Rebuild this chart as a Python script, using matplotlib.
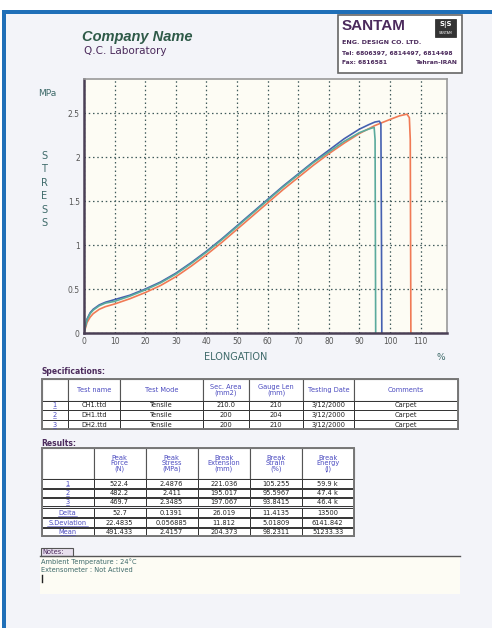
import matplotlib
matplotlib.use('Agg')
import matplotlib.pyplot as plt
from matplotlib.patches import Rectangle

# stress-strain curves (elongation %, stress MPa)
blue_x = [0, 0.5, 1, 2, 3, 5, 7, 10, 15, 20, 25, 30, 35, 40, 45, 50, 55, 60, 65, 70, 75, 80, 85, 90, 93, 95, 96.5, 97.0, 97.2, 97.3]
blue_y = [0, 0.09, 0.16, 0.23, 0.27, 0.32, 0.35, 0.38, 0.43, 0.50, 0.58, 0.68, 0.80, 0.93, 1.07, 1.22, 1.37, 1.52, 1.67, 1.81, 1.95, 2.08, 2.21, 2.32, 2.37, 2.40, 2.41, 2.38, 1.0, 0]
teal_x = [0, 0.5, 1, 2, 3, 5, 7, 10, 15, 20, 25, 30, 35, 40, 45, 50, 55, 60, 65, 70, 75, 80, 85, 90, 93, 94.8, 95.1, 95.3]
teal_y = [0, 0.08, 0.15, 0.22, 0.26, 0.31, 0.34, 0.36, 0.42, 0.49, 0.57, 0.67, 0.79, 0.92, 1.06, 1.21, 1.36, 1.51, 1.66, 1.80, 1.94, 2.06, 2.18, 2.28, 2.32, 2.34, 2.2, 0]
orange_x = [0, 0.5, 1, 2, 3, 5, 7, 10, 15, 20, 25, 30, 35, 40, 45, 50, 55, 60, 65, 70, 75, 80, 85, 90, 95, 100, 103, 105.5, 106.3, 106.6, 106.8]
orange_y = [0, 0.06, 0.12, 0.18, 0.22, 0.27, 0.30, 0.33, 0.39, 0.46, 0.54, 0.64, 0.76, 0.89, 1.03, 1.18, 1.33, 1.48, 1.63, 1.77, 1.91, 2.04, 2.16, 2.27, 2.36, 2.43, 2.47, 2.49, 2.45, 2.2, 0]

x_ticks = [0, 10, 20, 30, 40, 50, 60, 70, 80, 90, 100, 110]
y_ticks = [0, 0.5, 1, 1.5, 2, 2.5]
y_tick_labels = ['0', '0.5', '1', '1.5', '2', '2.5']

spec_headers = ['', 'Test name', 'Test Mode', 'Sec. Area\n(mm2)', 'Gauge Len\n(mm)', 'Testing Date', 'Comments']
spec_rows = [
    ['1', 'CH1.ttd', 'Tensile', '210.0', '210', '3/12/2000', 'Carpet'],
    ['2', 'DH1.ttd', 'Tensile', '200', '204', '3/12/2000', 'Carpet'],
    ['3', 'DH2.ttd', 'Tensile', '200', '210', '3/12/2000', 'Carpet'],
]
res_headers = ['', 'Peak\nForce\n(N)', 'Peak\nStress\n(MPa)', 'Break\nExtension\n(mm)', 'Break\nStrain\n(%)', 'Break\nEnergy\n(J)']
res_rows = [
    ['1', '522.4', '2.4876', '221.036', '105.255', '59.9 k'],
    ['2', '482.2', '2.411', '195.017', '95.5967', '47.4 k'],
    ['3', '469.7', '2.3485', '197.067', '93.8415', '46.4 k'],
    ['Delta', '52.7', '0.1391', '26.019', '11.4135', '13500'],
    ['S.Deviation', '22.4835', '0.056885', '11.812', '5.01809', '6141.842'],
    ['Mean', '491.433', '2.4157', '204.373', '98.2311', '51233.33'],
]
notes = ['Ambient Temperature : 24°C', 'Extensometer : Not Actived']

W, H = 492, 628
fig = plt.figure(figsize=(W / 100, H / 100), dpi=100)
fig.patch.set_facecolor('white')

# page layer in pixel coordinates
pg = fig.add_axes([0, 0, 1, 1])
pg.set_xlim(0, W)
pg.set_ylim(H, 0)
pg.axis('off')
pg.add_patch(Rectangle((2, 10), W, H, facecolor='#f3f4f9', edgecolor='none'))
pg.add_patch(Rectangle((2, 10), 4, H, facecolor='#1f6fb8', edgecolor='none'))
pg.add_patch(Rectangle((2, 10), W, 3.5, facecolor='#1f6fb8', edgecolor='none'))

purple = '#4b2a5c'
teal_txt = '#3e6a6a'
hdr_blue = '#4b4bc0'

pg.text(82, 37, 'Company Name', fontsize=10.5, fontweight='bold', fontstyle='italic',
        family='Liberation Sans', color='#2e5a48', va='center')
pg.text(84, 51, 'Q.C. Laboratory', fontsize=7.5, color=purple, va='center')

# SANTAM box
pg.add_patch(Rectangle((337.5, 15), 124, 57.5, facecolor='white', edgecolor='#666666', lw=1.2))
pg.text(342, 26, 'SANTAM', fontsize=11, fontweight='bold', color=purple, va='center', family='Liberation Sans')
pg.text(342, 43, 'ENG. DESIGN CO. LTD.', fontsize=4.6, fontweight='bold', color=purple, va='center')
pg.text(342, 54, 'Tel: 6806397, 6814497, 6814498', fontsize=4.3, fontweight='bold', color=purple, va='center')
pg.text(342, 62.5, 'Fax: 6816581', fontsize=4.3, fontweight='bold', color=purple, va='center')
pg.text(458, 62.5, 'Tehran-IRAN', fontsize=4.3, fontweight='bold', color=purple, va='center', ha='right')
pg.add_patch(Rectangle((435, 18.5), 21, 18, facecolor='#333333', edgecolor='#222222', lw=0.5))
pg.text(445.5, 25, 'S|S', fontsize=5, fontweight='bold', color='white', ha='center', va='center')
pg.text(445.5, 33.5, 'SANTAM', fontsize=2.3, color='white', ha='center', va='center')

# axis captions
pg.text(38, 93, 'MPa', fontsize=6.5, color=teal_txt, va='center')
for i, ch in enumerate('STRESS'):
    pg.text(44, 156 + i * 13.4, ch, fontsize=7, color=teal_txt, ha='center', va='center')
pg.text(236, 357, 'ELONGATION', fontsize=7, color=teal_txt, ha='center', va='center')
pg.text(441, 358, '%', fontsize=6.5, color=teal_txt, ha='center', va='center')

# chart
ax = fig.add_axes([84 / W, 1 - 333 / H, 363 / W, 254 / H])
ax.set_facecolor('#fdfcf4')
ax.plot(orange_x, orange_y, color='#f07a55', lw=1.2)
ax.plot(blue_x, blue_y, color='#4560b0', lw=1.2)
ax.plot(teal_x, teal_y, color='#5aaa9c', lw=1.2)
ax.set_xlim(0, 118.6)
ax.set_ylim(0, 2.89)
ax.set_xticks(x_ticks)
ax.set_yticks(y_ticks)
ax.set_yticklabels(y_tick_labels)
ax.tick_params(length=0, labelsize=5.5, labelcolor='#555555', pad=3)
ax.grid(True, color='#3f5a5a', linestyle=(0, (1.2, 2.2)), lw=0.9)
for side in ['left', 'bottom']:
    ax.spines[side].set_color('#4a3f55')
    ax.spines[side].set_linewidth(1.8)
for side in ['top', 'right']:
    ax.spines[side].set_color('#999999')
    ax.spines[side].set_linewidth(1.2)


def draw_table(cols, row_edges, headers, rows, header_top):
    # header row
    for j in range(len(cols) - 1):
        pg.add_patch(Rectangle((cols[j], header_top), cols[j + 1] - cols[j], row_edges[0][0] - header_top,
                               facecolor='white', edgecolor='#555555', lw=0.8))
        pg.text((cols[j] + cols[j + 1]) / 2, (header_top + row_edges[0][0]) / 2, headers[j],
                fontsize=4.8, color=hdr_blue, ha='center', va='center', linespacing=0.95)
    for (top, bot), row in zip(row_edges, rows):
        for j in range(len(cols) - 1):
            pg.add_patch(Rectangle((cols[j], top), cols[j + 1] - cols[j], bot - top,
                                   facecolor='white', edgecolor='#333333', lw=0.7))
            color = hdr_blue if j == 0 else '#222222'
            pg.text((cols[j] + cols[j + 1]) / 2, (top + bot) / 2 + 0.3, row[j], fontsize=4.8,
                    color=color, ha='center', va='center')
            if j == 0:
                half = 1.9 * len(row[0])
                pg.plot([(cols[0] + cols[1]) / 2 - half, (cols[0] + cols[1]) / 2 + half],
                        [bot - 1.2, bot - 1.2], color=hdr_blue, lw=0.4)
    pg.add_patch(Rectangle((cols[0], header_top), cols[-1] - cols[0], row_edges[-1][1] - header_top,
                           facecolor='none', edgecolor='#777777', lw=1.4))


pg.text(41, 372, 'Specifications:', fontsize=5.5, fontweight='bold', color=purple, va='center')
spec_cols = [41.5, 67.5, 120, 203, 249, 303, 354, 457.5]
draw_table(spec_cols, [(400.5, 409.5), (410, 419.5), (420, 429)], spec_headers, spec_rows, 379)

pg.text(41, 443, 'Results:', fontsize=5.5, fontweight='bold', color=purple, va='center')
res_cols = [41.5, 93.5, 145.5, 197.5, 250, 302, 353.5]
res_edges = [(479, 487.5), (488.5, 497), (497.8, 506.3), (507.8, 516.8), (517.8, 526.8), (527.8, 536.3)]
draw_table(res_cols, res_edges, res_headers, res_rows, 448)

# notes
pg.add_patch(Rectangle((40, 556), 420, 38, facecolor='#fdfcf4', edgecolor='none'))
pg.plot([40, 460], [555.5, 555.5], color='#555555', lw=1.0)
pg.add_patch(Rectangle((40.5, 547.5), 32, 8, facecolor='#e8e0ee', edgecolor='#555555', lw=0.8))
pg.text(42.5, 551.8, 'Notes:', fontsize=4.8, color=purple, va='center')
for i, line in enumerate(notes):
    pg.text(41, 561.5 + i * 8.5, line, fontsize=4.8, color=teal_txt, va='center')
pg.plot([41.5, 41.5], [575, 582], color='#222222', lw=1.0)

fig.savefig('out.png', dpi=100, facecolor=fig.get_facecolor())
